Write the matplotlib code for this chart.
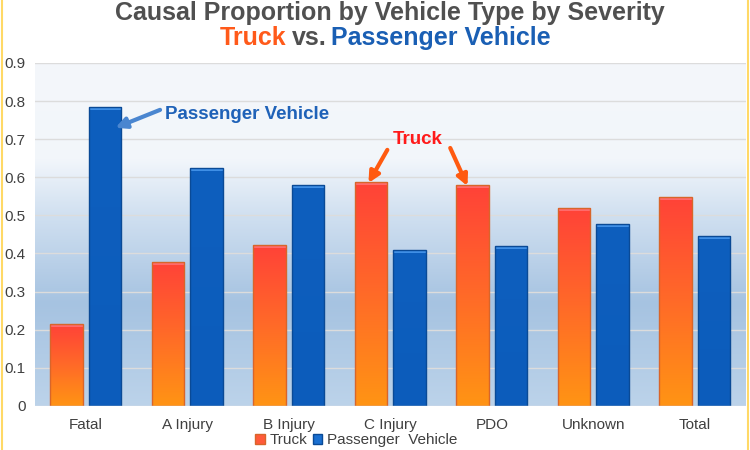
import numpy as np
import matplotlib.pyplot as plt
from matplotlib.colors import LinearSegmentedColormap
from matplotlib.patches import Patch
from matplotlib.lines import Line2D

categories = ['Fatal', 'A Injury', 'B Injury', 'C Injury', 'PDO', 'Unknown', 'Total']
truck = [0.215, 0.378, 0.423, 0.588, 0.580, 0.520, 0.549]
passenger = [0.785, 0.625, 0.580, 0.410, 0.420, 0.478, 0.447]
yticks = [0, 0.1, 0.2, 0.3, 0.4, 0.5, 0.6, 0.7, 0.8, 0.9]
ytick_labels = ['0', '0.1', '0.2', '0.3', '0.4', '0.5', '0.6', '0.7', '0.8', '0.9']

plt.rcParams['font.family'] = ['Liberation Sans', 'DejaVu Sans']

fig = plt.figure(figsize=(7.5, 4.5), dpi=100)
ax = fig.add_axes([0.047, 0.098, 0.947, 0.762])

x = np.arange(len(categories))
w = 0.32
off = 0.19

# plot background gradient (bottom -> top)
bg = LinearSegmentedColormap.from_list('bg', [(0.0, '#bcd3ea'), (0.3, '#a6c3e1'),
                                              (0.55, '#cfdff0'), (0.72, '#f2f6fb'),
                                              (1.0, '#f4f7fa')])
ax.imshow(np.linspace(0, 1, 256).reshape(-1, 1), cmap=bg, origin='lower',
          extent=[-0.5, len(categories) - 0.5, 0, 0.9], aspect='auto', zorder=0)

for yv in yticks[1:]:
    ax.axhline(yv, color='#dcdcdc', lw=1, zorder=1)

truck_cm = LinearSegmentedColormap.from_list('tr', ['#ff9414', '#ff6a28', '#ff4238'])
pv_cm = LinearSegmentedColormap.from_list('pv', ['#0c5cbb', '#0e5fbe'])

def grad_bars(xs, vals, cmap, edge, top):
    bars = ax.bar(xs, vals, w, color='none', edgecolor=edge, lw=1, zorder=3)
    for b, v in zip(bars, vals):
        x0 = b.get_x()
        im = ax.imshow(np.linspace(0, 1, 128).reshape(-1, 1), cmap=cmap, origin='lower',
                       extent=[x0, x0 + w, 0, v], aspect='auto', zorder=2)
        im.set_clip_path(b)
        ax.fill_between([x0, x0 + w], v - 0.008, v, color=top, zorder=2.5, lw=0)
    return bars

grad_bars(x - off, truck, truck_cm, '#d8652a', '#ff6a6a')
grad_bars(x + off, passenger, pv_cm, '#0a4a96', '#3f8fe6')

ax.set_xlim(-0.5, len(categories) - 0.5)
ax.set_ylim(0, 0.9)
ax.set_xticks(x)
ax.set_xticklabels(categories, fontsize=11, color='#404040')
ax.set_yticks(yticks)
ax.set_yticklabels(ytick_labels, fontsize=11, color='#404040')
ax.tick_params(length=0, pad=9)
ax.tick_params(axis='y', pad=7)
for s in ax.spines.values():
    s.set_visible(False)
ax.axhline(0, color='#e0e0e0', lw=1, zorder=4)

# annotations
arrow_pv = dict(arrowstyle='-|>', color='#4a86d0', lw=3, mutation_scale=16,
                shrinkA=0, shrinkB=0)
arrow_tr = dict(arrowstyle='-|>', color='#ff5a10', lw=3, mutation_scale=16,
                shrinkA=0, shrinkB=0)
ax.text(0.782, 0.764, 'Passenger Vehicle', fontsize=13.5, fontweight='bold',
        color='#1f62b8', va='center', ha='left')
ax.annotate('', xy=(0.29, 0.73), xytext=(0.73, 0.777), arrowprops=arrow_pv)
ax.text(3.267, 0.698, 'Truck', fontsize=13.5, fontweight='bold', color='#ff1a1a',
        ha='center', va='center')
ax.annotate('', xy=(2.784, 0.585), xytext=(2.97, 0.672), arrowprops=arrow_tr)
ax.annotate('', xy=(3.76, 0.577), xytext=(3.59, 0.677), arrowprops=arrow_tr)

# title
fig.text(0.52, 0.998, 'Causal Proportion by Vehicle Type by Severity', ha='center',
         va='top', fontsize=18, fontweight='bold', color='#505050')
fig.text(0.382, 0.916, 'Truck', ha='right', va='center', fontsize=18,
         fontweight='bold', color='#ff5a1a')
fig.text(0.412, 0.916, 'vs.', ha='center', va='center', fontsize=18,
         fontweight='bold', color='#505050')
fig.text(0.441, 0.916, 'Passenger Vehicle', ha='left', va='center', fontsize=18,
         fontweight='bold', color='#1a5fb4')

handles = [Patch(facecolor='#ff5a3a', edgecolor='#d8652a'),
           Patch(facecolor='#1a6fd0', edgecolor='#0a4a96')]
fig.legend(handles, ['Truck', 'Passenger  Vehicle'], loc='center',
           bbox_to_anchor=(0.475, 0.022), ncol=2, frameon=False, fontsize=11,
           handlelength=0.6, handleheight=0.6, handletextpad=0.3, columnspacing=0.4,
           labelcolor='#404040', borderpad=0.1)

# yellow frame edges
fig.add_artist(Line2D([0.002, 0.002], [0, 1], color='#ffd966', lw=1.5))
fig.add_artist(Line2D([0.997, 0.997], [0, 1], color='#ffd966', lw=1.5))

fig.savefig('out.png', dpi=100)
